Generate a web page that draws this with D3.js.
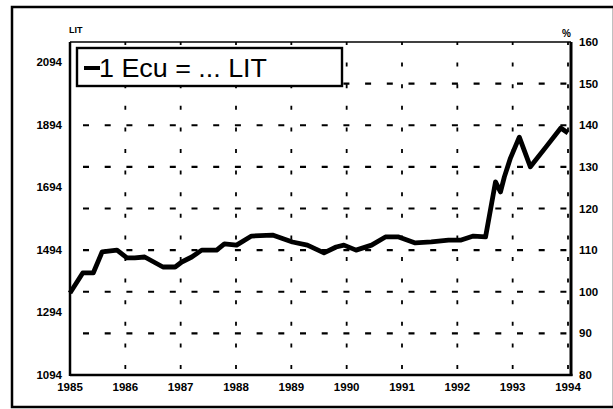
<!DOCTYPE html>
<html>
<head>
<meta charset="utf-8">
<script src="https://cdn.jsdelivr.net/npm/d3@7"></script>
<style>
  html, body { margin: 0; padding: 0; background: #fff; }
  svg { display: block; font-family: "Liberation Sans", Arial, sans-serif; }
</style>
</head>
<body>
<svg id="chart" width="613" height="409"></svg>
<script>
// 1 Ecu in LIT (decimal years)
var dates = [1985.00, 1985.23, 1985.42, 1985.58, 1985.85, 1986.03, 1986.17, 1986.35, 1986.68, 1986.90,
  1987.02, 1987.20, 1987.38, 1987.65, 1987.79, 1988.01, 1988.28, 1988.66, 1989.02, 1989.29,
  1989.59, 1989.81, 1989.95, 1990.17, 1990.45, 1990.70, 1990.94, 1991.24, 1991.53, 1991.84,
  1992.07, 1992.29, 1992.51, 1992.69, 1992.78, 1992.85, 1992.96, 1993.12, 1993.32, 1993.60,
  1993.87, 1994.00];
var ecuLit = [1356, 1420, 1420, 1487, 1493, 1468, 1468, 1471, 1439, 1439,
  1455, 1471, 1493, 1493, 1513, 1509, 1538, 1541, 1519, 1509,
  1484, 1503, 1509, 1493, 1509, 1535, 1535, 1516, 1519, 1525,
  1525, 1538, 1535, 1711, 1679, 1727, 1787, 1854, 1759, 1822,
  1883, 1867];

var years = [1985, 1986, 1987, 1988, 1989, 1990, 1991, 1992, 1993, 1994];
var litTicks = [1094, 1294, 1494, 1694, 1894, 2094];
var pctTicks = [80, 90, 100, 110, 120, 130, 140, 150, 160];
var legendLabel = '1 Ecu = ... LIT';

(function () {
  var svg = d3.select('#chart');
  var pLeft = 70, pRight = 571, pTop = 42, pBottom = 375;

  var x = d3.scaleLinear().domain([1985, 1994]).range([pLeft, 568]);
  var yLit = d3.scaleLinear().domain([1094, 2094]).range([pBottom, 62]);
  var yPct = d3.scaleLinear().domain([80, 160]).range([pBottom, pTop]);

  // outer frame
  svg.append('rect')
    .attr('x', 12).attr('y', 7).attr('width', 602).attr('height', 400)
    .attr('fill', 'none').attr('stroke', '#000').attr('stroke-width', 2.5);

  var grid = svg.append('g');

  // horizontal dashed grid (follows right axis)
  grid.selectAll('.hgrid')
    .data(pctTicks.slice(1, -1))
    .enter().append('line')
    .attr('class', 'hgrid')
    .attr('x1', pLeft).attr('x2', pRight)
    .attr('y1', function (d) { return yPct(d); })
    .attr('y2', function (d) { return yPct(d); })
    .attr('stroke', '#000').attr('stroke-width', 2.2)
    .attr('stroke-dasharray', '6,15.7')
    .attr('stroke-dashoffset', -13);

  // vertical dashed grid
  grid.selectAll('.vgrid')
    .data(years.slice(1))
    .enter().append('line')
    .attr('class', 'vgrid')
    .attr('x1', function (d) { return x(d); })
    .attr('x2', function (d) { return x(d); })
    .attr('y1', pBottom).attr('y2', pTop)
    .attr('stroke', '#000').attr('stroke-width', 1.8)
    .attr('stroke-dasharray', '4,17.6')
    .attr('stroke-dashoffset', -6);

  // plot frame
  svg.append('line').attr('x1', pLeft).attr('x2', pRight).attr('y1', pTop).attr('y2', pTop)
    .attr('stroke', '#000').attr('stroke-width', 1.5);
  svg.append('line').attr('x1', pLeft).attr('x2', pRight + 1.5).attr('y1', pBottom).attr('y2', pBottom)
    .attr('stroke', '#000').attr('stroke-width', 2.5);
  svg.append('line').attr('x1', pLeft).attr('x2', pLeft).attr('y1', pTop).attr('y2', pBottom + 1)
    .attr('stroke', '#000').attr('stroke-width', 2.5);
  svg.append('line').attr('x1', pRight).attr('x2', pRight).attr('y1', pTop).attr('y2', pBottom + 1)
    .attr('stroke', '#000').attr('stroke-width', 3);

  // data line
  var line = d3.line()
    .x(function (d, i) { return x(dates[i]); })
    .y(function (d) { return yLit(d); });

  svg.append('path')
    .datum(ecuLit)
    .attr('d', line)
    .attr('fill', 'none')
    .attr('stroke', '#000')
    .attr('stroke-width', 4.8)
    .attr('stroke-linejoin', 'round')
    .attr('stroke-linecap', 'butt');

  // legend
  var lg = svg.append('g');
  lg.append('rect')
    .attr('x', 77).attr('y', 48).attr('width', 265).attr('height', 38)
    .attr('fill', '#fff').attr('stroke', '#000').attr('stroke-width', 2.4);
  lg.append('line')
    .attr('x1', 84).attr('x2', 100).attr('y1', 68).attr('y2', 68)
    .attr('stroke', '#000').attr('stroke-width', 4);
  lg.append('text')
    .attr('x', 99).attr('y', 77)
    .attr('font-size', 25)
    .attr('textLength', 168)
    .attr('lengthAdjust', 'spacingAndGlyphs')
    .text(legendLabel);

  // tick labels
  var tickSize = 11.5;

  svg.selectAll('.ylab')
    .data(litTicks)
    .enter().append('text')
    .attr('x', 62)
    .attr('y', function (d) { return yLit(d) + 4; })
    .attr('text-anchor', 'end')
    .attr('font-size', tickSize).attr('font-weight', 'bold')
    .text(function (d) { return d; });

  svg.selectAll('.rlab')
    .data(pctTicks)
    .enter().append('text')
    .attr('x', 579)
    .attr('y', function (d) { return yPct(d) + 4; })
    .attr('font-size', tickSize).attr('font-weight', 'bold')
    .text(function (d) { return d; });

  svg.selectAll('.xlab')
    .data(years)
    .enter().append('text')
    .attr('x', function (d) { return x(d); })
    .attr('y', 391)
    .attr('text-anchor', 'middle')
    .attr('font-size', tickSize).attr('font-weight', 'bold')
    .text(function (d) { return d; });

  // axis unit labels
  svg.append('text').attr('x', 69).attr('y', 33)
    .attr('font-size', 9).attr('font-weight', 'bold').text('LIT');
  svg.append('text').attr('x', 562).attr('y', 37)
    .attr('font-size', 10).attr('font-weight', 'bold').text('%');
})();
</script>
</body>
</html>
